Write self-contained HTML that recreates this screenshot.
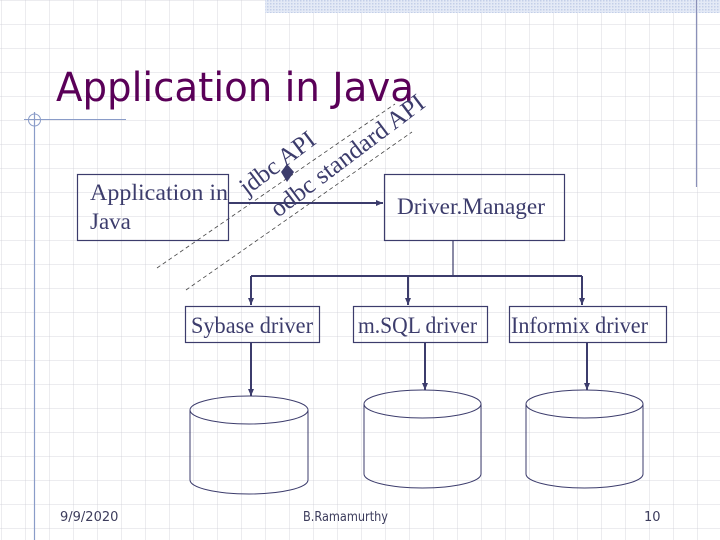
<!DOCTYPE html>
<html><head><meta charset="utf-8"><style>
html,body{margin:0;padding:0}
body{width:720px;height:540px;position:relative;overflow:hidden;background:#fff;
background-image:linear-gradient(to right,rgba(200,200,210,.35) 1px,transparent 1px),linear-gradient(to bottom,rgba(200,200,210,.35) 1px,transparent 1px);
background-size:24px 24px;background-position:1px 0px;}
svg{position:absolute;left:0;top:0}
</style></head><body>
<svg width="720" height="540" viewBox="0 0 720 540">
<defs>
<pattern id="hatch" width="3" height="3" patternUnits="userSpaceOnUse"><rect width="3" height="3" fill="#e4eaf6"/><rect width="1.5" height="1.5" fill="#c3cfe8"/></pattern>
<marker id="ah" markerWidth="8" markerHeight="8" refX="7" refY="4" orient="auto" markerUnits="userSpaceOnUse"><path d="M0,1 L7,4 L0,7 Z" fill="#3c3c6c"/></marker>
</defs>
<rect x="265" y="0" width="455" height="13" fill="url(#hatch)"/>
<line x1="696.5" y1="0" x2="696.5" y2="187" stroke="#8a90b8" stroke-width="1.2"/>
<line x1="24" y1="119.5" x2="126" y2="119.5" stroke="#8a9cc8" stroke-width="1"/>
<line x1="34.5" y1="112" x2="34.5" y2="540" stroke="#8a9cc8" stroke-width="1.2"/>
<circle cx="34.5" cy="120" r="6" fill="none" stroke="#8a9cc8" stroke-width="1"/>
<text x="56" y="101" font-family="DejaVu Sans, sans-serif" font-size="40" fill="#5a0058" textLength="358" lengthAdjust="spacingAndGlyphs">Application in Java</text>
<g stroke="#444" stroke-width="0.8" stroke-dasharray="4,3">
<line x1="157" y1="268" x2="395" y2="104"/>
<line x1="186" y1="290" x2="412" y2="132"/>
</g>
<g font-family="Liberation Serif, serif" fill="#3c3c6c">
<text x="0" y="0" font-size="25" transform="translate(247,196) rotate(-37)">jdbc API</text>
<text x="0" y="0" font-size="25" transform="translate(278,218) rotate(-37)" textLength="186" lengthAdjust="spacingAndGlyphs">odbc standard API</text>
</g>
<path d="M287,164 L294,172 L287,182 L281,172 Z" fill="#3c3c6c"/>
<g fill="none" stroke="#3c3c6c" stroke-width="1.2">
<rect x="77.5" y="174.5" width="151" height="66"/>
<rect x="384.5" y="174.5" width="180" height="66"/>
<rect x="185.5" y="306.5" width="134" height="36"/>
<rect x="353.5" y="306.5" width="134" height="36"/>
<rect x="509.5" y="306.5" width="157" height="36"/>
</g>
<g stroke="#3c3c6c" stroke-width="2" fill="none">
<line x1="228" y1="203" x2="383" y2="203" marker-end="url(#ah)"/>
<line x1="453" y1="240" x2="453" y2="276" stroke-width="1.2"/>
<line x1="251" y1="276" x2="582" y2="276"/>
<line x1="251" y1="276" x2="251" y2="305" marker-end="url(#ah)"/>
<line x1="408" y1="276" x2="408" y2="305" marker-end="url(#ah)"/>
<line x1="582" y1="276" x2="582" y2="305" marker-end="url(#ah)"/>
<line x1="251" y1="342" x2="251" y2="396" marker-end="url(#ah)"/>
<line x1="425" y1="342" x2="425" y2="390" marker-end="url(#ah)"/>
<line x1="587" y1="342" x2="587" y2="390" marker-end="url(#ah)"/>
</g>
<g fill="none" stroke="#3c3c6c" stroke-width="1">
<ellipse cx="249" cy="410" rx="59" ry="14"/>
<path d="M190,410 L190,480 A59,14 0 0 0 308,480 L308,410"/>
<ellipse cx="422.5" cy="404" rx="58.5" ry="14"/>
<path d="M364,404 L364,474 A58.5,14 0 0 0 481,474 L481,404"/>
<ellipse cx="584.5" cy="404" rx="58.5" ry="14"/>
<path d="M526,404 L526,474 A58.5,14 0 0 0 643,474 L643,404"/>
</g>
<g font-family="Liberation Serif, serif" fill="#3c3c6c" font-size="23">
<text x="90" y="200" textLength="138" lengthAdjust="spacingAndGlyphs">Application in</text>
<text x="90" y="229">Java</text>
<text x="397" y="214" textLength="148" lengthAdjust="spacingAndGlyphs">Driver.Manager</text>
<text x="191" y="333" textLength="122" lengthAdjust="spacingAndGlyphs">Sybase driver</text>
<text x="358" y="333" textLength="119" lengthAdjust="spacingAndGlyphs">m.SQL driver</text>
<text x="511" y="333" textLength="137" lengthAdjust="spacingAndGlyphs">Informix driver</text>
</g>
<g font-family="DejaVu Sans, sans-serif" fill="#3c3c5c" font-size="13">
<text x="60" y="521">9/9/2020</text>
<text x="303" y="521" textLength="85" lengthAdjust="spacingAndGlyphs">B.Ramamurthy</text>
<text x="644" y="521">10</text>
</g>
</svg>
</body></html>
